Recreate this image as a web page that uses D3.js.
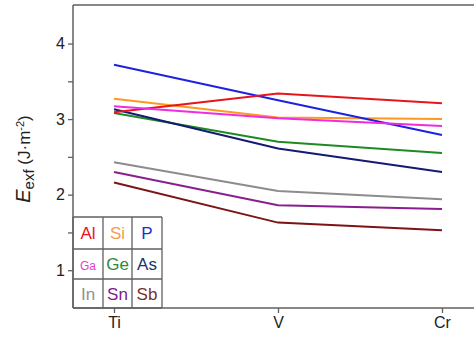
<!DOCTYPE html>
<html>
<head>
<meta charset="utf-8">
<script src="https://cdn.jsdelivr.net/npm/d3@7"></script>
<style>
  body { margin: 0; background: #fff; }
  svg { display: block; font-family: "Liberation Sans", Arial, sans-serif; }
</style>
</head>
<body>
<div class="chart"></div>
<script>
// metals on the x axis
var metals = ['Ti', 'V', 'Cr'];

// exfoliation energy per element (Ti, V, Cr)
var elements = ['Al', 'Si', 'P', 'Ga', 'Ge', 'As', 'In', 'Sn', 'Sb'];
var valAl = [3.09, 3.34, 3.21];
var valSi = [3.27, 3.02, 3.00];
var valP  = [3.72, 3.25, 2.79];
var valGa = [3.17, 3.01, 2.91];
var valGe = [3.08, 2.70, 2.55];
var valAs = [3.13, 2.61, 2.30];
var valIn = [2.43, 2.05, 1.94];
var valSn = [2.30, 1.86, 1.81];
var valSb = [2.16, 1.63, 1.53];
var yTicks = [1, 2, 3, 4];

var colors = {
  Al: '#e8141c', Si: '#ff9820', P: '#1c22e0',
  Ga: '#f02ce0', Ge: '#1e8a24', As: '#141a72',
  In: '#8c8c8c', Sn: '#8a1e8e', Sb: '#7c1414'
};
var legendColors = {
  Al: '#e8141c', Si: '#f0a050', P: '#2030d0',
  Ga: '#e040d0', Ge: '#2a8a3a', As: '#20306a',
  In: '#909090', Sn: '#80208a', Sb: '#7a3030'
};

var series = [
  {name: 'In', vals: valIn}, {name: 'Sn', vals: valSn}, {name: 'Sb', vals: valSb},
  {name: 'Ge', vals: valGe}, {name: 'As', vals: valAs}, {name: 'Si', vals: valSi},
  {name: 'P', vals: valP}, {name: 'Al', vals: valAl}, {name: 'Ga', vals: valGa}
];

var W = 474, H = 338;
var mLeft = 73, mTop = 5, mRight = 500, mBottom = 308;

var svg = d3.select('.chart').append('svg')
  .attr('width', W).attr('height', H);

var x = d3.scaleLinear().domain([0, 2]).range([114, 442]);
var y = d3.scaleLinear().domain([0.5, 4.51]).range([mBottom, mTop]);

//frame
var axisColor = '#606060';
svg.append('line').attr('x1', mLeft).attr('x2', mRight).attr('y1', mTop).attr('y2', mTop)
  .attr('stroke', axisColor).attr('stroke-width', 1.5);

//data lines
var line = d3.line()
  .x(function(d, i) { return x(i); })
  .y(function(d) { return y(d); });

svg.selectAll('path.series')
  .data(series)
  .enter().append('path')
  .attr('class', 'series')
  .attr('d', function(d) { return line(d.vals); })
  .attr('fill', 'none')
  .attr('stroke', function(d) { return colors[d.name]; })
  .attr('stroke-width', 2);

//legend table in the lower left corner
var colX = [73, 103, 132, 162];
var rowY = [217, 249, 279, 308];
var legend = svg.append('g');
legend.append('rect').attr('x', colX[0]).attr('y', rowY[0])
  .attr('width', colX[3] - colX[0]).attr('height', rowY[3] - rowY[0])
  .attr('fill', '#fff');
colX.forEach(function(cx) {
  legend.append('line').attr('x1', cx).attr('x2', cx).attr('y1', rowY[0]).attr('y2', rowY[3])
    .attr('stroke', axisColor).attr('stroke-width', 1.3);
});
rowY.forEach(function(ry) {
  legend.append('line').attr('x1', colX[0]).attr('x2', colX[3]).attr('y1', ry).attr('y2', ry)
    .attr('stroke', axisColor).attr('stroke-width', 1.3);
});
legend.selectAll('text')
  .data(elements)
  .enter().append('text')
  .attr('x', function(d, i) { return (colX[i % 3] + colX[i % 3 + 1]) / 2; })
  .attr('y', function(d, i) { return (rowY[Math.floor(i / 3)] + rowY[Math.floor(i / 3) + 1]) / 2 + 6; })
  .attr('text-anchor', 'middle')
  .attr('font-size', function(d) { return d == 'Ga' ? 12 : 17; })
  .attr('fill', function(d) { return legendColors[d]; })
  .text(function(d) { return d; });

//axes
var yAxis = d3.axisLeft(y)
  .tickValues([1, 1.5, 2, 2.5, 3, 3.5, 4])
  .tickSize(5)
  .tickFormat(function(d) { return yTicks.indexOf(d) >= 0 ? d : ''; });
var gy = svg.append('g').attr('transform', 'translate(' + mLeft + ',0)').call(yAxis);
gy.select('.domain').attr('d', 'M0,' + mBottom + 'V' + mTop);

var xAxis = d3.axisBottom(x)
  .tickValues([0, 1, 2])
  .tickSize(5)
  .tickFormat(function(d) { return metals[d]; });
var gx = svg.append('g').attr('transform', 'translate(0,' + mBottom + ')').call(xAxis);
gx.select('.domain').attr('d', 'M' + mLeft + ',0H' + mRight);

[gx, gy].forEach(function(g) {
  g.selectAll('.domain').attr('stroke', axisColor).attr('stroke-width', 1.5);
  g.selectAll('.tick line').attr('stroke', axisColor).attr('stroke-width', 1.3);
  g.selectAll('.tick text').attr('font-size', 16).attr('fill', '#222')
    .attr('font-family', '"Liberation Sans", Arial, sans-serif');
});
gy.selectAll('.tick text').attr('x', -8);
gx.selectAll('.tick text').attr('y', 9);

//y axis title
var title = svg.append('text')
  .attr('transform', 'translate(30,159) rotate(-90)')
  .attr('text-anchor', 'middle')
  .attr('font-size', 17)
  .attr('fill', '#222');
title.append('tspan').attr('font-style', 'italic').attr('font-size', 20).text('E');
title.append('tspan').attr('dy', 4).attr('font-size', 15).text('exf');
title.append('tspan').attr('dy', -4).text(' (J\u00b7m');
title.append('tspan').attr('dy', -6).attr('font-size', 11).text('-2');
title.append('tspan').attr('dy', 6).text(')');
</script>
</body>
</html>
